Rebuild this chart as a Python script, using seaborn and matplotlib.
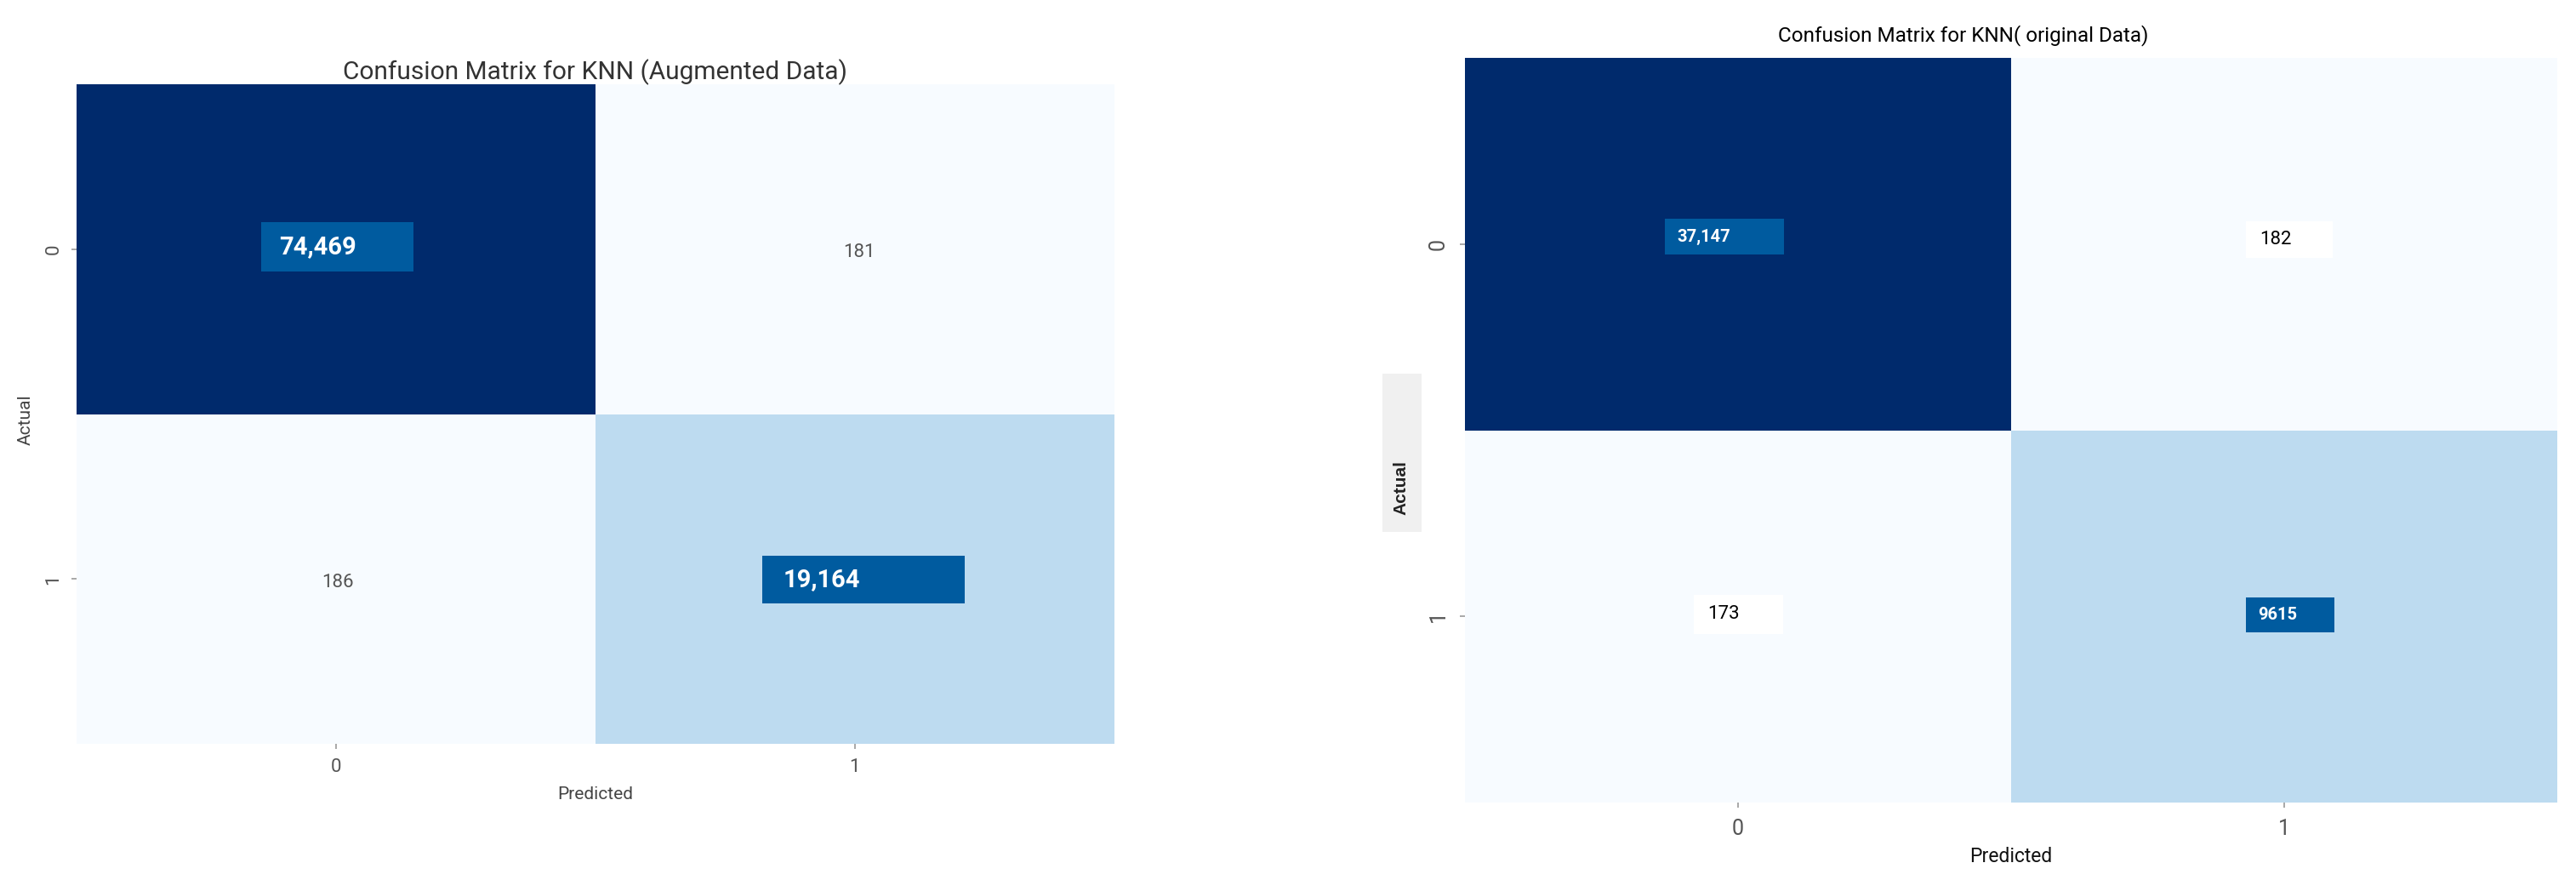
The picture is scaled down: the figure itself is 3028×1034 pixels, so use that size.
import numpy as np
import pandas as pd
import matplotlib
matplotlib.use('Agg')
import matplotlib.pyplot as plt
import seaborn as sns
from matplotlib.patches import Rectangle
from matplotlib.colors import LinearSegmentedColormap

# confusion matrix values
classes = ['0', '1']
cm_augmented = [[74469, 181], [186, 19164]]
cm_original = [[37147, 182], [173, 9615]]
labels_augmented = [['74,469', '181'], ['186', '19,164']]
labels_original = [['37,147', '182'], ['173', '9615']]

sns.set_style('white')
plt.rcParams['font.family'] = ['Roboto', 'DejaVu Sans']

# Blues-like map, a bit deeper at the top end like the screenshot
cmap = LinearSegmentedColormap.from_list(
    'blues_cm', [(0.0, '#f7fbff'), (0.255, '#bddbf0'), (0.6, '#2171b5'), (1.0, '#002a6c')])
box_blue = '#005b9f'

# label styles per cell: box (x0, x1, y0, y1) inside the cell, text start x, size, weight, text colour, box colour
styles_augmented = {
    (0, 0): ((0.356, 0.649, 0.418, 0.568), 0.39, 21, 'bold', 'white', box_blue),
    (0, 1): (None, 0.508, 16, 'normal', '#555555', None),
    (1, 0): (None, 0.503, 16, 'normal', '#555555', None),
    (1, 1): ((0.321, 0.711, 0.430, 0.574), 0.361, 21, 'bold', 'white', box_blue),
}
styles_original = {
    (0, 0): ((0.366, 0.584, 0.432, 0.528), 0.389, 14.5, 'bold', 'white', box_blue),
    (0, 1): ((0.430, 0.589, 0.439, 0.537), 0.455, 16, 'normal', 'black', 'white'),
    (1, 0): ((0.419, 0.583, 0.442, 0.547), 0.444, 16, 'normal', 'black', 'white'),
    (1, 1): ((0.430, 0.592, 0.449, 0.543), 0.452, 14.5, 'bold', 'white', box_blue),
}


def draw_labels(ax, labels, styles):
    for (i, j), (box, tx, size, weight, tcol, bcol) in styles.items():
        if box is None:
            ax.text(j + tx, i + 0.51, labels[i][j], ha='center', va='center',
                    fontsize=size, fontweight=weight, color=tcol)
            continue
        x0, x1, y0, y1 = box
        ax.add_patch(Rectangle((j + x0, i + y0), x1 - x0, y1 - y0,
                               facecolor=bcol, edgecolor='none', zorder=3))
        ax.text(j + tx, i + (y0 + y1) / 2, labels[i][j], ha='left', va='center',
                fontsize=size, fontweight=weight, color=tcol, zorder=4)


fig = plt.figure(figsize=(30.28, 10.34), dpi=100)
ax1 = fig.add_axes([0.0297, 0.1547, 0.4029, 0.7495])
ax2 = fig.add_axes([0.5687, 0.0880, 0.4240, 0.8462])

# 1. Augmented data
df_aug = pd.DataFrame(cm_augmented, index=classes, columns=classes)
sns.heatmap(df_aug, cmap=cmap, cbar=False, annot=False, ax=ax1)
draw_labels(ax1, labels_augmented, styles_augmented)
ax1.set_title('Confusion Matrix for KNN (Augmented Data)', fontsize=21.5, color='#333333', pad=4)
ax1.set_xlabel('Predicted', fontsize=15, color='#444444')
ax1.set_ylabel('Actual', fontsize=15, color='#444444')
ax1.xaxis.set_label_coords(0.5, -0.064)
ax1.yaxis.set_label_coords(-0.041, 0.492)
ax1.tick_params(axis='both', bottom=True, left=True, length=4, width=1.2, color='#999999',
                labelsize=16, labelcolor='#555555', pad=8)
ax1.set_yticklabels(classes, rotation=90, va='center')

# 2. Original data
df_orig = pd.DataFrame(cm_original, index=classes, columns=classes)
sns.heatmap(df_orig, cmap=cmap, cbar=False, annot=False, ax=ax2)
draw_labels(ax2, labels_original, styles_original)
ax2.set_title('Confusion Matrix for KNN( original Data)', fontsize=17.5, color='black', x=0.456, pad=14)
ax2.set_xlabel('Predicted', fontsize=16.5, color='#111111')
ax2.set_ylabel('Actual', fontsize=15, fontweight='bold', color='#222222', family='Liberation Sans')
ax2.xaxis.set_label_coords(0.5, -0.059)
ax2.yaxis.set_label_coords(-0.0514, 0.423)
ax2.tick_params(axis='both', bottom=True, left=True, length=4, width=1.2, color='#999999',
                labelsize=18, labelcolor='#555555', pad=10)
ax2.set_yticklabels(classes, rotation=90, va='center')

# grey band behind the right "Actual" label
fig.add_artist(Rectangle((1625 / 3028, 1 - 625 / 1034), 46 / 3028, 186 / 1034,
                         transform=fig.transFigure, facecolor='#f0f0f0',
                         edgecolor='none', zorder=-1))

fig.savefig('out.png', dpi=100)
print("saved out.png")
